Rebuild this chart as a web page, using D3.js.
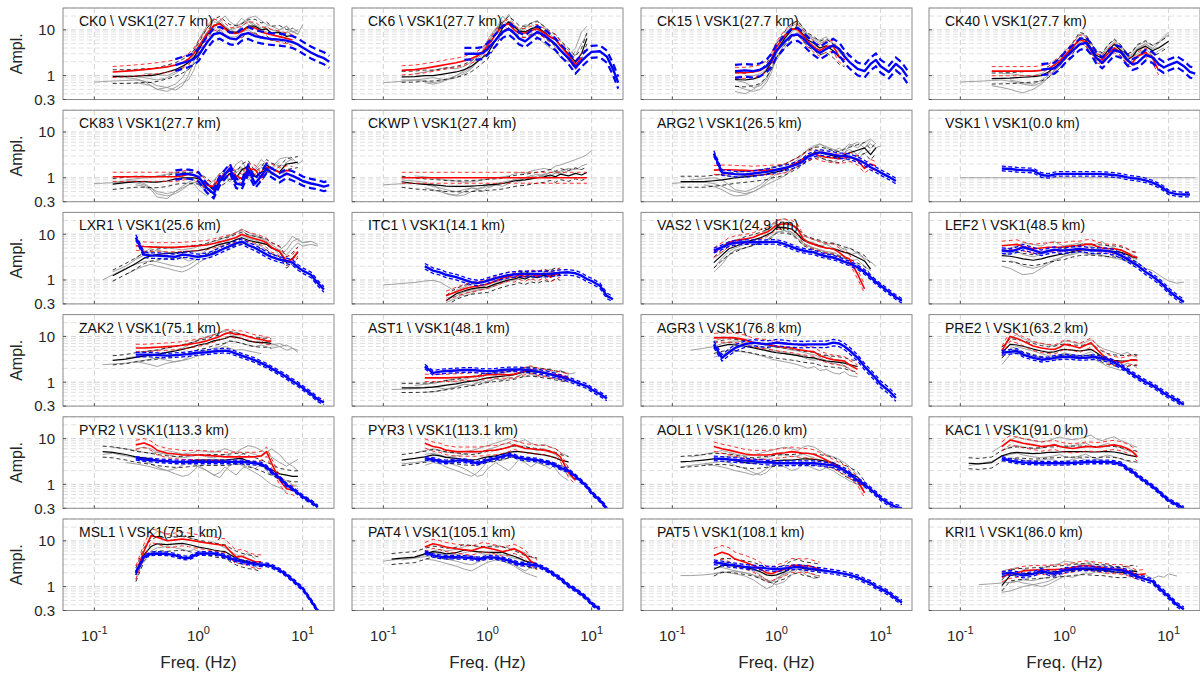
<!DOCTYPE html>
<html>
<head>
<meta charset="utf-8">
<script src="https://cdn.jsdelivr.net/npm/d3@7"></script>
<style>
  body { margin: 0; background: #fff; }
  text { font-family: "Liberation Sans", Arial, Helvetica, sans-serif; }
</style>
</head>
<body>
<svg id="chart" width="1200" height="675"></svg>
<script>
// Frequency sampling (Hz) shared by every spectral-ratio series
const FREQ = [0.1,0.12,0.15,0.2,0.25,0.3,0.35,0.4,0.5,0.6,0.7,0.8,0.9,1,1.2,1.4,1.6,1.8,2,2.3,2.6,3,3.5,4,4.5,5,6,7,8,9,10,12,14,16,18];

const stations = ["CK0","CK6","CK15","CK40","CK83","CKWP","ARG2","VSK1","LXR1","ITC1","VAS2","LEF2",
                  "ZAK2","AST1","AGR3","PRE2","PYR2","PYR3","AOL1","KAC1","MSL1","PAT4","PAT5","KRI1"];
const reference = "VSK1";
const distances = [27.7,27.7,27.7,27.7,27.7,27.4,26.5,0.0,25.6,14.1,24.9,48.5,
                   75.1,48.1,76.8,63.2,113.3,113.1,126.0,91.0,75.1,105.1,108.1,86.0];

const yTickValues = [0.3, 1, 10];
const xTickValues = [0.1, 1, 10];
const xTickExponents = ["-1", "0", "1"];
const gridY = [0.3,0.4,0.5,0.6,0.7,0.8,0.9,1,2,3,4,5,6,7,8,9,10,20,30];

// Each series: [index of first FREQ sample, amplitudes]
const blueMean = [
  [9,[1.7,1.9,2.05,2.3,2.8,5.2,8.0,8.6,7.4,6.5,6.2,7.8,8.5,7.3,6.8,6.5,6.3,6.1,5.8,5.4,4.8,4.1,3.2,2.7,2.4,2.0]],
  [9,[3.0,3.0,3.0,3.1,3.8,6.0,9.0,10.5,8.5,6.5,5.6,7.0,9.0,7.6,6.0,4.8,3.6,2.4,1.5,2.1,2.7,3.3,3.4,2.6,1.4,0.7]],
  [7,[1.24,1.3,1.25,1.35,1.6,2.2,3.5,5.5,7.6,7.9,6.5,5.0,3.8,3.1,3.8,4.6,3.8,2.6,2.0,1.4,1.25,1.8,2.2,1.6,1.2,1.8,1.4,0.95]],
  [9,[1.35,1.4,1.45,1.8,2.4,3.5,4.8,5.2,3.8,2.5,1.9,2.5,3.6,3.2,2.2,1.75,1.9,2.8,2.5,1.8,1.5,1.7,2.0,1.6,1.2,1.1]],
  [9,[1.15,1.2,1.2,1.15,1.05,0.6,0.45,0.85,1.2,1.6,0.75,0.7,1.5,0.75,1.1,1.6,1.3,1.0,1.24,1.1,0.97,0.85,0.75,0.7,0.64,0.69]],
  null,
  [4,[3.4,1.3,1.25,1.2,1.18,1.24,1.3,1.35,1.42,1.5,1.65,1.8,2.0,2.3,2.9,3.3,3.6,3.4,3.2,3.0,3.0,2.9,2.5,2.1,1.7,1.5,1.3,1.05,0.85]],
  [4,[1.6,1.55,1.5,1.47,1.44,1.15,1.1,1.18,1.22,1.22,1.22,1.22,1.22,1.22,1.22,1.2,1.18,1.15,1.1,1.02,0.98,0.96,0.88,0.78,0.68,0.58,0.48,0.44,0.43,0.43]],
  [4,[8.5,3.6,3.4,3.4,3.3,3.2,3.6,3.5,3.3,3.2,3.4,3.8,4.4,5.0,5.5,6.3,6.9,5.8,5.0,4.2,3.6,3.2,2.8,2.6,2.4,1.9,1.6,1.3,0.85,0.62]],
  [4,[2.0,1.6,1.47,1.3,1.15,1.0,0.9,0.86,0.9,0.97,1.1,1.2,1.28,1.32,1.35,1.35,1.35,1.35,1.35,1.35,1.4,1.45,1.47,1.4,1.24,1.05,0.95,0.75,0.45,0.38]],
  [4,[4.4,5.2,6.1,6.5,6.7,6.7,6.7,6.7,6.8,6.8,6.1,5.3,4.7,4.4,4.2,4.0,3.6,3.3,3.1,2.8,2.5,2.3,1.9,1.5,1.15,0.9,0.75,0.55,0.42,0.35]],
  [4,[4.4,4.2,4.6,5.2,4.5,3.9,4.3,4.6,4.4,4.4,4.6,4.8,4.6,4.4,4.4,4.4,4.3,4.0,3.4,2.9,2.4,2.1,1.5,1.2,0.95,0.75,0.58,0.42,0.33]],
  [4,[4.0,4.0,4.0,3.9,3.8,3.9,4.0,4.1,4.3,4.4,4.5,4.7,4.8,4.9,4.7,4.2,3.8,3.4,3.0,2.6,2.3,2.0,1.6,1.3,1.05,0.9,0.75,0.56,0.42,0.36]],
  [4,[2.2,1.6,1.7,1.75,1.8,1.85,1.85,1.8,1.75,1.74,1.78,1.85,1.9,1.9,1.9,1.85,1.8,1.7,1.6,1.5,1.38,1.3,1.15,1.0,0.9,0.82,0.69,0.55,0.44]],
  [4,[6.7,3.4,4.5,5.6,6.8,7.3,7.0,6.8,7.0,7.3,7.0,6.8,6.7,6.6,6.7,6.7,6.7,6.7,7.3,7.0,6.0,5.0,3.4,2.2,1.6,1.2,0.9,0.65,0.45]],
  [4,[4.4,4.6,4.8,4.0,3.4,3.1,3.2,3.4,3.5,3.6,3.5,3.4,3.4,3.5,3.5,3.3,3.1,2.7,2.2,1.8,1.5,1.3,1.0,0.85,0.7,0.58,0.5,0.4,0.32]],
  [4,[3.7,3.5,3.4,3.3,3.2,3.1,3.1,3.1,3.1,3.1,3.1,3.1,3.1,3.1,3.1,3.1,3.1,3.0,2.9,2.8,2.4,1.9,1.4,0.97,0.8,0.65,0.54,0.42,0.32]],
  [4,[3.7,3.5,3.2,3.1,3.3,3.3,3.1,2.9,3.1,3.4,3.7,4.1,4.4,4.2,3.8,3.6,3.5,3.4,3.1,2.9,2.6,2.3,2.0,1.5,1.15,0.9,0.65,0.45,0.3]],
  [4,[3.7,3.6,3.5,3.4,3.3,3.2,3.1,3.0,3.0,2.9,2.9,2.9,2.9,2.9,2.9,2.9,2.8,2.7,2.6,2.3,2.05,1.7,1.24,1.0,0.78,0.62,0.5,0.38,0.32,0.3]],
  [4,[3.7,3.3,3.1,3.0,2.95,2.9,2.9,2.9,2.9,2.9,2.95,3.0,3.05,3.1,3.1,3.1,3.1,3.0,2.8,2.2,1.9,1.55,1.15,0.9,0.7,0.55,0.45,0.36,0.3]],
  [4,[2.0,4.5,5.2,5.3,5.2,4.8,4.3,4.2,4.7,5.3,5.3,5.3,5.0,4.6,4.2,3.8,3.5,3.3,3.1,3.0,3.0,2.8,2.3,1.8,1.4,1.1,0.9,0.5,0.29,0.2]],
  [4,[5.6,4.8,4.5,4.4,4.4,4.3,4.2,4.0,4.1,4.4,4.3,4.0,3.7,3.4,3.1,3.1,3.0,2.9,2.5,2.1,1.74,1.5,1.05,0.85,0.68,0.55,0.42,0.32]],
  [4,[3.4,3.2,3.0,2.9,2.7,2.6,2.6,2.5,2.45,2.4,2.5,2.6,2.7,2.6,2.5,2.4,2.3,2.2,2.1,2.0,1.9,1.8,1.6,1.35,1.2,1.0,0.9,0.72,0.55,0.45]],
  [4,[1.9,2.0,1.9,1.74,1.9,2.2,2.0,1.9,2.1,2.3,2.4,2.5,2.5,2.5,2.45,2.4,2.4,2.35,2.3,2.1,1.85,1.65,1.45,1.3,0.95,0.75,0.6,0.4,0.32]]
];
// log10 spread of the dashed bounds
const blueSd = [0.13,0.13,0.14,0.12,0.1,0,0.06,0.05,0.06,0.06,0.05,0.06,0.05,0.05,0.07,0.05,0.04,0.04,0.05,0.04,0.04,0.04,0.05,0.05];

const blackMean = [
  [2,[0.95,0.95,0.97,1.0,1.0,1.05,1.2,1.35,1.6,1.9,2.5,3.6,7.5,12,13.9,11,9.2,8.8,9.5,12,12,10,10.5,8.5,8.8,7.2,7.6]],
  [2,[0.94,0.95,1.0,1.0,1.05,1.1,1.2,1.35,1.6,2.0,2.5,3.0,6.0,11,15,12,9.5,9.0,10.5,11.5,9,7,6,4.5,3,2.0,3.0,6.5]],
  [7,[0.82,0.8,0.85,0.95,1.3,2.0,3.5,6.5,10,11,8,6,5,4,4.5,3.5,2.5,2.2]],
  [3,[0.86,0.87,0.88,0.9,0.92,0.95,1.0,1.2,1.5,1.9,2.4,4,6.7,6,4,2.8,2.4,3.5,4.8,3.5,2.2,2.6,3.6,4.4,3.5,4,4.8,5.6]],
  [2,[0.73,0.78,0.82,0.82,0.8,0.8,0.85,0.95,1.0,1.0,1.0,0.95,0.75,0.54,0.85,1.0,1.24,1.0,1.5,1.8,1.05,1.3,1.9,1.6,1.35,2.0,2.1,2.2]],
  [2,[0.82,0.75,0.72,0.7,0.68,0.66,0.65,0.65,0.66,0.67,0.68,0.7,0.72,0.75,0.8,0.85,0.88,0.9,0.95,1.0,1.05,1.15,1.05,1.2,1.1,1.25,1.15,1.3]],
  [1,[0.82,0.82,0.82,0.86,0.9,0.95,1.0,1.05,1.1,1.15,1.2,1.3,1.35,1.5,1.8,2.1,2.6,3.0,3.5,3.6,3.3,3.0,2.8,3.2,3.5,4.0,4.5,3.2,4.5]],
  null,
  [2,[1.24,1.74,2.3,3.0,3.4,3.6,3.8,3.9,4.0,4.2,4.3,4.4,4.8,5.4,6.0,6.4,6.7,7.6,8.4,7.4,6.8,6.4,6.0,5.0,4.2,2.4,3.0,4.0]],
  [7,[0.35,0.5,0.58,0.64,0.67,0.69,0.7,0.82,0.92,1.0,1.05,1.15,1.05,1.2,1.12,1.28,1.2,1.4,1.3]],
  [4,[2.4,3.5,4.8,5.4,6.7,7.5,8.3,9.5,11,14,14,13,10,7.5,6.7,6.0,5.6,5.0,4.8,4.4,4.0,3.8,3.1,2.6,1.74]],
  [4,[3.4,3.3,3.1,2.9,2.7,2.9,3.2,3.4,3.6,3.7,4.2,4.5,4.6,4.6,4.5,4.4,4.3,4.2,4.0,3.6,3.2,3.0]],
  [2,[3.0,3.2,3.5,3.7,3.9,4.0,4.5,4.8,5.2,5.6,6.0,6.5,7.0,8.0,8.5,9.0,10,9.5,9.0,8.0,7.5,7.3,7.3,7.0]],
  [2,[0.75,0.75,0.76,0.78,0.82,0.86,0.92,1.0,1.05,1.1,1.18,1.24,1.3,1.35,1.4,1.45,1.55,1.7,1.7,1.65,1.55,1.5,1.4,1.35,1.25]],
  [4,[5.6,6.2,6.7,6.5,6.1,5.6,5.2,4.9,4.6,4.4,4.2,4.0,3.8,3.6,3.5,3.4,3.1,2.9,2.8,2.7,2.6,2.4,2.2]],
  [4,[4.4,6.7,6.5,6.1,5.3,4.8,4.5,4.6,5.0,5.2,5.0,4.8,5.0,5.2,4.5,3.6,3.2,3.0,2.9,2.9,3.1,3.0]],
  [1,[5.2,5.0,4.5,4.0,3.8,3.6,3.4,3.2,3.1,3.1,3.2,3.3,3.4,3.4,3.4,3.4,3.4,3.5,3.6,3.7,3.2,2.9,2.6,2.3,2.1,1.7,1.6,1.5,1.5]],
  [2,[3.4,3.7,4.0,4.4,4.2,3.9,3.7,3.5,3.4,3.5,3.8,4.0,4.2,4.6,5.0,5.2,5.2,5.0,4.8,4.6,4.4,4.1,3.8,3.4,3.1]],
  [1,[3.1,3.2,3.4,3.6,3.6,3.5,3.3,3.0,2.9,3.0,3.1,3.2,3.3,3.4,3.4,3.5,3.6,3.6,3.5,3.4,3.2,3.0,2.5,2.0,1.8,1.45,0.9]],
  [1,[2.9,2.8,3.0,4.2,4.8,5.0,4.9,4.7,4.8,5.0,5.0,5.1,5.2,5.2,5.2,5.2,5.1,5.1,5.2,5.2,5.1,4.8,4.4,4.2,4.0]],
  [4,[1.8,5.0,7.5,8.6,8.3,8.6,8.8,8.3,7.8,7.3,6.8,6.3,6.0,5.8,5.0,4.2,3.8,3.5,3.3,3.0]],
  [1,[4.0,4.2,4.4,5.2,5.8,5.6,5.2,5.5,6.3,6.0,5.8,5.7,5.6,5.6,5.6,5.0,4.6,4.2,3.6,3.4,3.2]],
  [4,[2.4,2.9,2.9,2.8,2.6,2.4,2.1,1.8,1.74,1.8,2.1,2.6,2.8,2.5,2.4,2.3,2.2]],
  [4,[1.05,1.74,1.85,1.9,1.95,2.0,2.05,2.1,2.15,2.2,2.3,2.4,2.4,2.35,2.3,2.3,2.2,2.1,2.05,2.1,2.2,2.1]]
];
const blackSd = [0.15,0.12,0.15,0.12,0.12,0.12,0.12,0,0.12,0.12,0.12,0.12,0.1,0.1,0.12,0.12,0.12,0.12,0.12,0.12,0.15,0.12,0.15,0.12];

const redMean = [
  [2,[1.2,1.25,1.3,1.35,1.4,1.45,1.55,1.7,1.9,2.3,3.0,4.3,8.0,12.5,13.5,10.5,8.5,8.3,9.2,11.5,11,9,8.3,7.8,7.1,6.5,6.0]],
  [2,[1.3,1.35,1.45,1.55,1.65,1.75,1.9,2.1,2.35,2.7,3.3,4.4,8,12.5,13.5,10,8.5,8.5,9.5,10.5,8.5,7,6.3,4.5,2.8,1.7,2.5]],
  [7,[1.15,1.15,1.2,1.3,1.6,2.4,4.2,7.5,10.5,10,7.5,5.5,4.2,3.5,4.3,4.4,2.6,2.2]],
  [3,[1.25,1.25,1.25,1.25,1.25,1.25,1.3,1.4,1.7,2.1,2.7,4.2,6.1,5.5,3.5,2.4,2.2,3.0,4.0,3.2,2.1,1.9,2.6,3.2,2.4,1.3]],
  [2,[1.05,1.05,1.05,1.05,1.05,1.05,1.05,1.05,1.1,1.2,1.15,1.0,0.7,0.64,1.0,1.2,1.47,1.1,0.95,1.6,1.5,1.0,1.7,1.6,1.3,1.45,1.4]],
  [2,[1,1,1,1,1,1,1,1,1,1,1,1,1,1,1,1,1,1,1,1,1,1,1,1,1,1,1,1]],
  [4,[1.47,1.5,1.5,1.48,1.45,1.42,1.45,1.47,1.5,1.5,1.6,1.9,2.2,2.6,3.0,3.4,3.0,2.8,2.7,2.6,2.7,2.9,2.4,1.6,2.0,1.8]],
  null,
  [4,[5.6,5.4,5.3,5.2,5.2,5.2,5.3,5.4,5.5,5.6,5.8,6.3,6.8,7.2,7.8,8.5,10,8.8,8.0,7.3,6.5,5.2,4.2,2.6,2.8,4.2]],
  [7,[0.45,0.55,0.64,0.7,0.73,0.78,0.82,0.95,1.1,1.2,1.12,1.3,1.18,1.35,1.2,1.4,1.15,1.3,1.47]],
  [4,[4.0,5.2,6.7,7.3,7.9,8.6,10,11,13,16,17,16,13,8,6.7,6.0,5.4,5.0,4.8,4.0,3.2,2.9,1.35,0.64]],
  [4,[5.6,5.8,6.0,5.4,4.8,5.0,5.2,5.2,5.2,5.3,5.6,5.6,6.0,6.1,5.5,5.0,4.8,4.8,4.5,3.9,3.3,3.1]],
  [4,[5.6,5.6,5.7,5.8,6.0,6.2,6.4,6.7,7.0,7.3,8.0,9.0,10,11.5,12,11,11,10,9.0,8.6,8.0,7.9]],
  [4,[1.24,1.24,1.24,1.24,1.27,1.3,1.32,1.35,1.4,1.45,1.47,1.47,1.45,1.5,1.6,1.75,1.9,1.7,1.6,1.5,1.45,1.4,1.24]],
  [4,[9.3,9.4,9.4,9.3,8.5,7.3,7.0,6.7,6.4,6.1,5.8,5.6,5.2,5.0,4.8,4.6,3.8,3.4,3.1,3.0,2.9,2.4,1.9]],
  [4,[4.8,10,9,7.9,6.2,5.6,5.3,5.2,5.8,6.7,6.2,5.6,6.5,7.3,5.5,4.0,3.2,2.9,2.7,2.9,3.1,3.0]],
  [4,[7.3,8.0,7.0,5.6,4.8,4.6,4.4,4.4,4.4,4.4,4.3,4.2,4.1,4.0,4.0,4.0,4.0,4.0,4.0,4.2,5.2,3.0,1.24,0.8,0.75,0.64]],
  [4,[7.9,6.7,6.3,5.6,5.2,5.2,5.2,5.2,5.3,5.5,5.6,6.0,6.5,7.3,6.8,6.1,6.0,5.8,5.6,5.2,4.8,4.0,1.8,1.24]],
  [4,[6.7,6.0,5.6,5.2,4.6,4.4,4.4,4.4,4.5,4.7,4.9,5.2,5.0,4.8,4.8,4.5,4.0,3.4,2.8,2.4,2.05,1.7,1.2,0.65]],
  [4,[6.7,9.3,8.6,7.9,7.3,6.7,7.0,7.3,6.7,6.4,6.1,6.4,6.7,6.7,6.5,6.7,7.0,7.3,6.8,6.1,5.2,4.0]],
  [4,[2.0,6.0,13,12,10,10.5,11,10.5,10,9.6,9.0,8.5,8.2,7.8,6.0,4.4,4.6,4.0,3.5,3.5]],
  [4,[7.3,8.6,8.0,7.3,6.7,6.4,6.1,6.7,7.3,7.0,6.4,5.8,6.2,6.7,6.0,5.0,3.6,3.0]],
  [4,[4.8,5.6,5.0,4.0,3.4,2.9,2.4,2.0,1.9,2.1,2.4,2.9,2.9,2.8,2.9,2.6,2.4]],
  [4,[1.6,1.9,2.0,2.2,2.3,2.3,2.35,2.35,2.4,2.45,2.6,2.8,2.9,2.8,2.7,2.6,2.5,2.4,2.4,2.2,2.0,1.8,1.9]]
];
const redSd = [0.12,0.1,0.12,0.1,0.1,0.12,0.1,0,0.1,0.1,0.1,0.1,0.08,0.08,0.1,0.1,0.1,0.1,0.1,0.1,0.15,0.1,0.15,0.1];

// Individual recordings
const grayTraces = [
  [[0,[0.72,0.74,0.76,0.78,0.8,0.75,0.7,0.6,0.55,0.65,0.9,1.5,3,6,11,15,14,12,10,11,14,16,13,11,12,10,9,8.5,9.5,8]],
   [3,[0.9,0.85,0.75,0.6,0.5,0.55,0.48,0.6,1.0,2.0,4,9,12,16,12,10,9,12,15,12,10,11,8,7,9,11,9]],
   [2,[1.0,1.0,0.95,0.9,0.85,0.8,0.9,1.1,1.4,2.2,3.5,6,12,18,14,11,10,13,18,13,11,10,9,8,10,12,9,10]],
   [4,[0.7,0.65,0.6,0.5,0.45,0.55,0.7,0.8,1.3,2.6,5,8,9,7.5,7,7,9,10,8,7,6.5,6,5.5,6,5]],
   [5,[1.1,1.1,1.05,1.0,1.2,1.5,2.0,3.0,4.2,7,10,16,20,15,12,14,18,20,16,13,12,10,12,9,8,13]]],
  [[0,[0.7,0.72,0.75,0.8,0.85,0.9,0.85,0.8,0.9,1.1,1.4,2,3,5,9,16,13,10,9,11,14,10,8,6,5,3.5,2.2,2.8,5,8]],
   [2,[0.8,0.8,0.75,0.7,0.75,0.8,1.0,1.3,1.8,2.5,3.5,5,10,20,14,11,10,13,12,9,7,6,4,2.5,2.0,3.5]],
   [3,[1.1,1.2,1.3,1.4,1.5,1.4,1.6,2.0,2.8,3.5,4.5,8,14,22,13,10,11,14,16,12,8,6,4.5,2.8,4,9,12]],
   [4,[0.7,0.65,0.7,0.8,1.0,1.2,1.5,2.2,3.5,6,11,13,10,8,8,10,9,7,5,4,3.5,2.5,2.0]]],
  [[7,[0.6,0.5,0.45,0.5,0.7,1.2,2.5,5,9,12,9,7,6,5,6,5,3.5,3,2.5]],
   [7,[0.8,0.7,0.55,0.6,0.8,1.5,3,7,12,14,10,7.5,6.5,6,7,5,4,3]],
   [7,[0.45,0.4,0.5,0.65,0.9,1.4,2.2,4,7,9,7,5.5,4.5,4,4.5,3.5,2.8]],
   [8,[1.0,1.0,1.1,1.4,2.2,4,8,13,16,11,8,6.5,5.5,5,4,3.2,2.6]]],
  [[0,[0.72,0.74,0.75,0.78,0.8,0.75,0.7,0.65,0.6,0.7,0.9,1.3,1.8,2.5,4,6.5,6,4,3,2.8,4,5.5,4,2.5,3,4,5,4,5,6.5,8]],
   [3,[0.6,0.55,0.5,0.45,0.42,0.5,0.65,0.9,1.2,1.6,2.2,3.5,5.5,5,3.5,2.2,2,3,4.2,3,1.8,2.2,3,3.8,2.8,3.5,4]],
   [4,[1.1,1.1,1.05,1.0,1.0,1.1,1.4,1.8,2.3,3,5,8,7.5,5,3.5,3,4.5,6,4.5,3,3.3,4.5,5.5,4.5,5.5,7,9]],
   [5,[0.8,0.75,0.7,0.65,0.8,1.0,1.3,1.7,2.2,3.5,5.5,5,3.2,2.4,2.2,3.4,5,3.7,2.4,2.8,3.8,4.8,3.8,4.2]]],
  [[0,[0.75,0.76,0.78,0.8,0.78,0.7,0.6,0.5,0.45,0.5,0.6,0.7,0.8,0.75,0.6,0.45,0.8,1.0,1.3,0.9,1.4,1.9,1.1,1.3,2.2,1.6,1.3,2.2,2.6,2.0,2.4]],
   [2,[0.8,0.85,0.85,0.75,0.6,0.45,0.4,0.45,0.55,0.7,0.75,0.55,0.4,0.7,0.9,1.1,0.8,1.3,1.6,0.9,1.2,1.7,1.4,1.2,1.8,1.9]],
   [3,[0.9,0.95,1.0,1.0,1.1,1.2,1.3,1.35,1.3,1.1,0.85,0.6,0.9,1.2,1.5,1.2,2.0,2.4,1.3,1.6,2.5,2.0,1.6,2.6,2.8,2.4]],
   [4,[0.7,0.65,0.55,0.38,0.35,0.5,0.65,0.8,0.9,0.7,0.5,0.7,1.0,1.2,0.9,1.5,1.7,1.0,1.5,2.0,1.7,1.5,2.2]]],
  [[0,[0.7,0.72,0.74,0.75,0.72,0.65,0.6,0.55,0.5,0.55,0.6,0.58,0.62,0.7,0.75,0.8,0.85,0.9,0.95,1.0,1.1,1.2,1.1,1.3,1.4,1.3,1.6,1.5,1.8,2.0]],
   [2,[0.9,0.85,0.8,0.7,0.55,0.45,0.42,0.5,0.6,0.55,0.5,0.6,0.7,0.65,0.75,0.9,0.8,1.0,0.95,1.1,1.2,1.05,1.3,1.2,1.4,1.6,1.5]],
   [3,[1.1,1.05,1.0,0.95,0.9,0.85,0.8,0.82,0.85,0.9,0.95,1.0,1.05,1.1,1.2,1.3,1.25,1.4,1.5,1.6,1.5,1.8,1.9,2.2,2.5,2.8,3.2,4.0]],
   [4,[0.6,0.55,0.5,0.45,0.4,0.42,0.5,0.55,0.6,0.65,0.7,0.75,0.8,0.9,0.85,1.0,1.1,1.0,1.2,1.3,1.25,1.4,1.6]]],
  [[0,[0.75,0.78,0.8,0.8,0.75,0.65,0.55,0.5,0.45,0.5,0.6,0.7,0.8,0.9,1.1,1.5,1.8,2.2,2.8,3.5,4,3.5,3,2.6,3.5,4.2,3.2,4.5,5.5,4.5,5]],
   [2,[0.9,0.95,1.0,0.9,0.7,0.55,0.5,0.58,0.7,0.9,1.1,1.3,1.6,2.0,2.5,3.2,4.2,5,5.5,4.5,3.8,4.5,3.5,5,6,4.5,6.5]],
   [3,[0.7,0.65,0.55,0.45,0.4,0.42,0.5,0.6,0.8,1.0,1.2,1.3,1.5,1.8,2.3,2.8,3.0,2.8,2.4,2.2,2.6,3.0,2.2,2.6,3.4,4.0]],
   [4,[1.2,1.15,1.1,1.05,1.1,1.2,1.3,1.4,1.6,1.8,2.0,2.4,2.8,3.3,4.0,4.6,5.5,4.8,4.2,3.8,4.4,5.5,4.5,6.0,7.0,5.5]]],
  [[0,[1,1,1,1,1,1,1,1,1,1,1,1,1,1,1,1,1,1,1,1,1,1,1,1,1,1,1,1,1,1,1,1,1,1,1]]],
  [[1,[1.0,1.3,1.8,2.2,2.5,2.6,2.5,2.2,2.0,1.9,2.1,2.5,3.0,3.6,4.5,5.5,6.5,7.5,8.5,9.5,8,7.5,6.5,6,5,4.5,3.5,5,6.5,5.5,6,5.5]],
   [2,[1.5,2.0,2.8,3.5,4.0,4.5,4.0,3.5,3.0,2.6,2.8,3.5,4.5,5.5,6.5,7.5,9,11,12,9.5,9,8,7,5.5,3.5,4.5,7,8,6.5,7,6]],
   [3,[1.3,1.7,2.0,2.2,2.0,1.8,1.6,1.5,1.7,2.0,2.4,3.0,3.6,4.2,5.0,5.8,6.5,7,6.5,6,5.5,4.5,3.8,2.6,3.2]],
   [4,[3.0,4.0,5.0,5.5,5.0,4.8,4.5,4.8,5.0,5.5,6.0,7.0,7.5,8.5,9.5,11,13,11,9.5,8.5,7.5,6,4.5,6,9,7.5,6.5,7]]],
  [[0,[0.78,0.8,0.84,0.88,0.95,0.98,0.9,0.75,0.55,0.45,0.5,0.6,0.65,0.7,0.8,0.9,1.0,1.1,1.05,1.2,1.3,1.25,1.4,1.5,1.6]],
   [7,[0.32,0.4,0.5,0.55,0.6,0.62,0.65,0.75,0.85,0.95,1.0,1.05,1.1,1.0,1.2,1.15,1.3,1.2,1.35]],
   [8,[0.6,0.7,0.8,0.85,0.9,0.95,1.0,1.1,1.2,1.3,1.4,1.5,1.4,1.6,1.5,1.7,1.8]],
   [7,[0.4,0.45,0.55,0.6,0.65,0.7,0.8,0.9,1.0,1.05,1.0,1.1,1.2,1.25,1.3,1.2,1.5,1.4]]],
  [[4,[1.8,3.0,4.2,5.0,6.0,7.0,8.5,10,13,16,14,11,9,7.5,7,6.5,5.5,6,5,4.5,5,3.5,4,3,2.5,2]],
   [4,[3.0,4.0,5.5,6.5,7.5,8.5,10,12,15,20,22,17,12,9,8.5,7.5,7,6,6.5,5.5,4.5,5,3.8,2.8,1.6]],
   [5,[2.6,3.5,4.5,5.0,5.8,6.5,7.5,9,11,12,11,8,6.5,5.8,5.0,4.6,4.2,4.0,3.5,3.3,2.6,2.8,2.0,1.6]],
   [4,[1.5,2.2,3.5,4.5,5.0,5.8,6.6,7.5,9,11,12,10,8,6,5.5,5,4.5,4,3.5,3.2,3,2.4,2.2,1.4,1.2]]],
  [[4,[2.0,1.8,1.5,1.3,1.4,1.8,2.2,2.6,3.0,3.3,3.6,4.0,3.8,3.5,3.7,3.4,3.2,3.6,3.0,2.6,2.2,2.4,1.8,1.6,1.3,1.1,0.95,0.85,0.9]],
   [4,[4.5,5.0,5.5,6.5,6.0,5.5,6.5,7.0,6.0,5.5,6.0,6.5,6.0,5.5,6.0,7.0,5.5,5.0,4.5,4.0,3.6,3.2]],
   [5,[2.6,2.4,2.0,1.8,2.0,2.4,2.8,3.0,3.4,3.8,4.2,4.0,3.6,3.8,3.5,3.2,3.0,2.8,2.5,2.3,2.0]],
   [4,[3.5,3.8,4.2,3.6,3.2,3.6,4.0,4.5,5.0,5.5,5.2,4.8,5.0,5.4,5.0,4.5,4.2,4.0,3.8,3.5,3.0,2.8]]],
  [[1,[2.4,2.5,2.6,2.8,3.0,3.2,3.4,3.0,2.8,3.0,3.5,4.0,4.5,5.0,5.5,6.0,7.0,8.0,7.5,7.0,6.5,6.0,6.5,6.0,5.5,6.0,5.0,5.5,4.5]],
   [3,[3.4,3.6,3.8,4.0,4.2,4.5,5.0,5.5,6.5,7.5,8.5,10,11,12,14,13,12,11,10,9,9.5,8,7,6,6.5,5.5,5]],
   [4,[2.8,2.6,2.4,2.2,2.6,2.8,3.0,3.2,3.5,3.8,4.2,4.8,5.5,6.0,5.5,5.0,5.2,4.8,4.5,4.2]],
   [5,[4.5,4.8,5.0,5.5,6.0,6.5,7.0,7.5,8.5,9.5,11,12,13,11,10,9,8,7.5,8,7,6.5,7,6]]],
  [[1,[0.69,0.7,0.72,0.75,0.8,0.75,0.7,0.78,0.9,0.85,0.95,1.1,1.0,1.2,1.1,1.3,1.2,1.4,1.3,1.5,1.4,1.6,1.4,1.5,1.3,1.4]],
   [3,[0.85,0.9,0.95,1.0,1.1,1.2,1.1,1.3,1.4,1.3,1.5,1.6,1.5,1.8,1.7,1.9,2.0,2.2,1.9,1.7,2.0,1.6,1.8,1.5]],
   [4,[0.6,0.62,0.65,0.7,0.8,0.9,0.85,1.0,0.95,1.05,1.2,1.1,1.3,1.2,1.4,1.6,1.5,1.3,1.4,1.2,1.25,1.1,1.2]],
   [4,[0.9,0.95,1.0,1.1,1.0,1.2,1.3,1.2,1.4,1.5,1.4,1.6,1.7,1.8,1.9,2.1,1.9,1.8,2.0,1.7,1.6,1.8,1.5,1.6]]],
  [[2,[5,5.5,6,7,7.5,7,6.5,6,5.5,5,4.8,4.5,4.2,4,3.8,3.5,3.2,3,3.2,2.8,2.5,2.8,2.2,2]],
   [4,[3.5,4.0,4.5,4.8,4.5,4.2,3.8,3.5,3.2,3.0,2.8,2.6,2.4,2.2,2.0,2.2,1.8,1.9,1.6,1.5,1.7,1.4,1.3]],
   [4,[8,9,9.5,9,8,7.5,7,6.5,6,5.8,5.5,5,4.8,4.5,4.2,4,3.5,4,3.2,3,2.8,2.5,2.2]],
   [5,[7,7.5,8,7.5,6.5,6,5.5,5.2,4.8,4.5,4.2,4,3.8,3.5,3.2,3.4,3,2.6,2.4,2.2,2.0]]],
  [[4,[3.5,5.5,6,5.5,4.8,4.2,3.8,3.6,4.0,4.4,4.0,3.8,4.2,4.6,3.8,3.2,2.8,2.5,2.2,2.6,2.4,2.0]],
   [4,[5,9,11,9,7.5,7,6.5,6.2,7,8,7.5,7,7.5,8.5,7,5.5,5,4.5,4.0,4.5,3.8,3.5]],
   [5,[4.5,4.2,4.0,3.6,3.4,3.2,3.4,3.8,4.2,3.8,3.6,3.8,4.0,3.4,3.0,2.8,2.4,2.6,2.3]],
   [4,[2.4,4.0,4.5,4.2,3.8,3.5,3.2,3.0,3.3,3.6,3.4,3.2,3.5,3.8,3.0,2.6,2.2,2.0,1.8,2.1]]],
  [[1,[4.5,4.8,4.2,3.8,3.2,2.8,2.4,2.0,1.7,1.5,1.6,2.0,2.6,2.0,1.6,1.8,2.4,2.0,1.6,2.2,2.6,2.2,2.8,2.0,1.6,1.4,1.2,1.0,0.9]],
   [2,[6.5,6.0,5.5,5.0,4.8,5.0,5.5,5.0,4.6,4.8,5.0,5.5,5.2,5.0,5.5,6.0,5.5,5.0,6.0,7.0,6.5,5.5,4.8,4.0,3.0,2.5,3.0,3.5]],
   [3,[3.0,2.8,2.6,2.4,2.2,2.0,2.2,2.6,3.0,2.8,2.4,2.0,1.6,1.4,2.0,2.6,3.0,2.6,2.2,1.8,1.5,1.2,1.0,0.85,0.7]],
   [4,[6.0,6.5,6.0,5.0,4.5,4.0,3.8,4.0,4.2,4.5,4.0,3.8,4.2,4.5,4.2,4.0,4.5,5.0,4.5,4.0,5.0,6.0,4.5,3.0,2.5,2.0]]],
  [[2,[2.8,3.0,3.2,3.6,3.4,3.0,2.6,2.2,1.8,1.5,1.6,2.2,3.0,2.4,2.0,2.6,3.5,3.0,2.4,3.0,2.6,2.2,2.8,2.2,1.6,1.2]],
   [3,[4.8,5.5,6.0,5.5,5.0,4.8,5.2,5.5,6.0,6.5,7.0,8.0,9.0,10,9,8.5,9.5,8,7,7.5,6.5,6,5,4]],
   [4,[2.6,3.0,2.8,2.4,2.0,1.7,1.5,1.8,2.4,3.2,3.6,3.4,3.8,4.2,3.6,3.2,3.6,3.0,2.6,2.8,2.2,1.6,1.2]],
   [4,[4.5,4.8,4.4,4.0,4.2,4.6,5.0,4.8,5.2,5.8,6.5,7.5,8,7.2,6.5,7.0,6.0,5.5,6.0,5.0,4.5,3.5,2.5]]],
  [[1,[2.4,2.6,2.8,3.0,3.2,3.0,2.6,2.2,1.8,1.6,1.8,2.4,2.8,2.4,2.0,2.2,2.8,2.6,2.2,2.0,2.3,2.0,1.6,1.4,1.2,1.0,0.8]],
   [2,[4.0,4.5,5.0,5.5,5.0,4.6,4.2,4.4,4.8,5.2,5.5,6.0,6.5,6.0,5.5,6.5,7.0,6.5,5.5,4.5,4.0,3.5,3.0,2.5,1.6]],
   [3,[2.8,2.6,2.4,2.2,2.0,1.8,1.6,1.8,2.2,2.6,3.0,3.4,3.0,2.8,3.2,3.6,3.2,2.8,3.0,2.6,2.2,1.8,1.4,1.0]],
   [4,[3.5,3.8,4.2,4.0,3.6,3.4,3.6,3.8,4.2,4.6,4.4,4.0,4.2,4.6,4.2,3.8,3.4,3.2,2.8,2.4,2.0,1.8,1.2]]],
  [[1,[2.6,2.8,3.2,4.0,4.5,4.8,4.4,4.0,3.8,4.0,4.2,4.5,4.0,3.8,4.2,4.6,4.0,3.6,4.0,4.4,4.0,3.6,3.2,3.0]],
   [3,[5.0,7.0,9.0,11,10,9,8.5,9,10,11,10,9.5,10,11,12,10,9,10,11,9,8,7,6.5]],
   [4,[3.5,3.8,3.6,3.4,3.2,3.4,3.6,3.4,3.0,3.2,3.5,3.8,3.4,3.2,3.6,3.3,3.0,2.8,2.6,2.4,2.2,2.0]],
   [4,[5.5,6.5,7.0,6.5,6.0,6.2,6.8,7.5,7.0,6.5,7.0,7.5,8.0,7.0,6.5,7.2,7.8,7.0,6.2,5.5,5.0,4.5]]],
  [[4,[1.5,4.0,6.0,7.0,7.5,7.0,6.5,6.0,6.5,6.0,5.5,5.0,4.8,4.5,4.0,3.5,3.0,3.5,2.5,3.0]],
   [5,[7,12,16,14,12,13,12,11,10,9,9.5,8,7,6,5,4.5,5.5,4]]],
  [[0,[3.6,3.8,4.0,4.2,4.5,4.8,4.5,4.0,3.6,3.2,3.0,3.4,3.8,4.2,4.0,3.6,3.2,3.0,2.6,2.2,2.6,2.4]],
   [2,[3.8,4.2,5.0,6.0,6.5,6.0,6.5,7.5,8.0,7.5,7.0,7.5,8.0,7.5,7.0,6.5,6.0,5.5,4.5,4.0]],
   [4,[4.0,3.8,3.5,3.2,2.8,2.4,2.2,2.6,3.0,3.4,3.8,3.6,3.2,2.8,2.4,2.0,1.8,1.6]],
   [3,[4.5,5.0,5.5,5.2,4.8,5.0,5.5,6.0,5.6,5.2,5.0,5.4,5.0,4.5,4.2,4.0,3.6,3.2,2.8]]],
  [[1,[1.74,1.74,1.8,1.9,2.1,2.0,1.9,1.7,1.4,1.1,0.9,1.0,1.3,1.8,2.2,2.6,2.4,2.2,2.5,2.0]],
   [4,[2.6,2.6,2.4,2.2,2.0,1.8,1.5,1.3,1.2,1.5,2.0,2.5,2.8,3.0,2.6,2.4,2.2,2.0]],
   [5,[3.5,3.4,3.0,2.6,2.2,1.8,1.4,1.2,1.1,1.3,1.8,2.4,2.0,1.7,1.5,1.6]],
   [4,[1.9,2.0,2.1,2.2,2.0,1.8,1.6,1.4,1.3,1.5,1.9,2.2,2.4,2.2,2.0,1.8,1.7]]],
  [[2,[1.1,1.15,1.2,1.25,1.3,1.2,1.1,1.0,1.1,1.3,1.5,1.7,1.6,1.8,2.0,1.9,2.1,2.0,1.9,2.1,1.8,1.9,1.7,1.6,1.8,1.5,1.7,1.6,1.9,1.7]],
   [4,[0.75,0.8,0.9,1.0,1.1,1.2,1.3,1.5,1.7,2.0,2.2,2.5,2.4,2.2,2.6,2.4,2.2,2.0,2.1,1.9,1.8,1.6]],
   [4,[2.2,2.4,2.6,2.4,2.2,2.5,2.8,3.0,3.2,3.6,3.4,3.0,3.2,3.5,3.0,2.8,3.1,2.6,2.4,2.6,2.3,2.2]],
   [5,[1.2,1.3,1.4,1.35,1.5,1.6,1.8,2.0,2.2,2.6,2.4,2.2,2.4,2.7,2.5,2.2,2.4,2.2,2.0,1.8,1.9]]]
];

// ---- layout ----
const svg = d3.select("#chart");
const PW = 271, PH = 91.5;
const colX = [63, 352, 641, 929];
const rowY = d3.range(6).map(r => 8 + r * 102.2);

const x = d3.scaleLog().domain([0.05, 20]).range([0, PW]);
const y = d3.scaleLog().domain([0.3, 30]).range([PH, 0]);
const line = d3.line().x(d => x(d[0])).y(d => y(d[1]));

const toPts = s => s[1].map((v, j) => [FREQ[s[0] + j], v]).filter(d => d[0] !== undefined);
const scaleBy = (pts, k) => pts.map(([f, v]) => [f, v * k]);

function drawBand(g, series, sd, color, solidW, dashW, dash) {
  if (!series) return;
  const p = toPts(series);
  if (sd > 0) {
    [Math.pow(10, sd), Math.pow(10, -sd)].forEach(k => {
      g.append("path").attr("d", line(scaleBy(p, k)))
        .attr("fill", "none").attr("stroke", color)
        .attr("stroke-width", dashW).attr("stroke-dasharray", dash);
    });
  }
  g.append("path").attr("d", line(p))
    .attr("fill", "none").attr("stroke", color).attr("stroke-width", solidW)
    .attr("stroke-linejoin", "round");
}

stations.forEach((name, i) => {
  const r = Math.floor(i / 4), c = i % 4;
  const g = svg.append("g").attr("transform", `translate(${colX[c]},${rowY[r]})`);
  const clipId = "clip-" + i;
  g.append("clipPath").attr("id", clipId)
    .append("rect").attr("width", PW).attr("height", PH);

  g.append("rect").attr("width", PW).attr("height", PH).attr("fill", "#fff");

  // dashed grid
  g.selectAll("line.gy").data(gridY).join("line").attr("class", "gy")
    .attr("x1", 0).attr("x2", PW).attr("y1", d => y(d)).attr("y2", d => y(d))
    .attr("stroke", d => (d === 1 || d === 10) ? "#d2d2d2" : "#e0e0e0")
    .attr("stroke-width", 1).attr("stroke-dasharray", "5,3");
  g.selectAll("line.gx").data(xTickValues).join("line").attr("class", "gx")
    .attr("y1", 0).attr("y2", PH).attr("x1", d => x(d)).attr("x2", d => x(d))
    .attr("stroke", "#d2d2d2").attr("stroke-width", 1).attr("stroke-dasharray", "5,3");

  const plot = g.append("g").attr("clip-path", `url(#${clipId})`);

  grayTraces[i].forEach(s => {
    plot.append("path").attr("d", line(toPts(s)))
      .attr("fill", "none").attr("stroke", "#969696").attr("stroke-width", 0.9);
  });
  drawBand(plot, blackMean[i], blackSd[i], "#000", 1.2, 0.8, "4,3");
  drawBand(plot, redMean[i], redSd[i], "#ff0000", 1.6, 0.8, "4,3");
  const wide = blueSd[i] >= 0.1;
  drawBand(plot, blueMean[i], blueSd[i], "#0000ff", 2.4, wide ? 2.2 : 1.3, wide ? "7,4" : "4,2.5");

  // frame
  g.append("rect").attr("width", PW).attr("height", PH)
    .attr("fill", "none").attr("stroke", "#8a8a8a").attr("stroke-width", 1);

  // ticks
  g.selectAll("line.tx").data(xTickValues).join("line").attr("class", "tx")
    .attr("x1", d => x(d)).attr("x2", d => x(d)).attr("y1", PH).attr("y2", PH - 3)
    .attr("stroke", "#555");
  g.selectAll("line.ty").data(yTickValues).join("line").attr("class", "ty")
    .attr("x1", 0).attr("x2", 3).attr("y1", d => y(d)).attr("y2", d => y(d))
    .attr("stroke", "#555");

  g.append("text").attr("x", 16).attr("y", 18)
    .attr("font-size", 14).attr("fill", "#111")
    .text(`${name} \\ ${reference}(${distances[i].toFixed(1)} km)`);

  if (c === 0) {
    g.selectAll("text.yl").data(yTickValues).join("text").attr("class", "yl")
      .attr("x", -8).attr("y", d => y(d)).attr("dy", "0.36em")
      .attr("text-anchor", "end").attr("font-size", 15).attr("fill", "#262626")
      .text(d => d);
    g.append("text")
      .attr("transform", `translate(${-41},${PH / 2}) rotate(-90)`)
      .attr("text-anchor", "middle").attr("font-size", 16).attr("fill", "#262626")
      .text("Ampl.");
  }
  if (r === 5) {
    const xl = g.selectAll("text.xl").data(xTickValues).join("text").attr("class", "xl")
      .attr("x", d => x(d)).attr("y", PH + 30)
      .attr("text-anchor", "middle").attr("font-size", 15).attr("fill", "#262626");
    xl.append("tspan").text("10");
    xl.append("tspan").attr("font-size", 11).attr("dy", -7)
      .text((d, k) => xTickExponents[k]);
    g.append("text").attr("x", PW / 2).attr("y", PH + 57)
      .attr("text-anchor", "middle").attr("font-size", 17).attr("fill", "#262626")
      .text("Freq. (Hz)");
  }
});
</script>
</body>
</html>
